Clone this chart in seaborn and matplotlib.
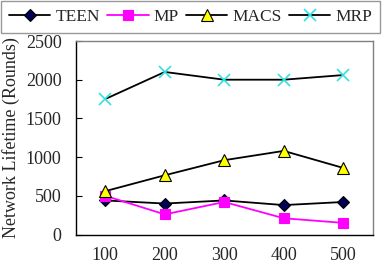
import matplotlib
matplotlib.use("Agg")
import matplotlib.pyplot as plt
import seaborn as sns
import pandas as pd

nodes = [100, 200, 300, 400, 500]
teen = [440, 400, 440, 380, 420]
mp = [500, 260, 420, 210, 150]
macs = [560, 765, 960, 1080, 860]
mrp = [1750, 2100, 2000, 2000, 2060]
series_names = ["TEEN", "MP", "MACS", "MRP"]

sns.set_style("white")
plt.rcParams["font.family"] = ["Liberation Serif", "DejaVu Serif"]

df = pd.DataFrame({
    "nodes": nodes * 4,
    "value": teen + mp + macs + mrp,
    "series": sum([[n] * len(nodes) for n in series_names], []),
})

fig = plt.figure(figsize=(3.83, 2.65), dpi=100)
ax = fig.add_axes([75.5 / 383, 1 - 234.5 / 265, (373 - 75.5) / 383, (234.5 - 41) / 265])

styles = {
    "TEEN": dict(marker="D", color="black", mfc="#000055", mec="black", ms=6),
    "MP": dict(marker="s", color="#ff00ff", mfc="#ff00ff", mec="#ff00ff", ms=6.5),
    "MACS": dict(marker="^", color="black", mfc="#ffff00", mec="black", ms=8),
    "MRP": dict(marker="x", color="black", mfc="#00e5e5", mec="#33e0e0", ms=8),
}
for name in series_names:
    st = styles[name]
    sub = df[df["series"] == name]
    sns.lineplot(data=sub, x="nodes", y="value", ax=ax, color=st["color"],
                 marker=st["marker"], markersize=st["ms"], markerfacecolor=st["mfc"],
                 markeredgecolor=st["mec"], markeredgewidth=1.2 if name == "MRP" else 0.8,
                 linewidth=1.3, label=name, legend=False)

ax.set_xlim(50, 550)
ax.set_ylim(0, 2500)
ax.set_xticks(nodes)
ax.set_xticklabels([str(n) for n in nodes])
ax.set_xticks([150, 250, 350, 450], minor=True)
ax.set_yticks([0, 500, 1000, 1500, 2000, 2500])
ax.tick_params(axis="x", which="major", length=0, pad=9, labelsize=13)
ax.tick_params(axis="x", which="minor", direction="in", length=4, color="black", width=0.8)
ax.tick_params(axis="y", direction="in", length=4, labelsize=13, pad=10, left=True, color="black")
ax.set_xlabel("")
ax.set_ylabel("Network Lifetime (Rounds)", fontsize=13, labelpad=4)
for s in ["left", "bottom"]:
    ax.spines[s].set_color("black")
    ax.spines[s].set_linewidth(1.0)
for s in ["top", "right"]:
    ax.spines[s].set_color("#808080")
    ax.spines[s].set_linewidth(1.0)

handles, labels = ax.get_legend_handles_labels()
leg = fig.legend(handles, labels, loc="upper left", bbox_to_anchor=(0.0, 1.0, 0.995, 0.0),
                 mode="expand", ncol=4,
                 frameon=True, fancybox=False, fontsize=12.5, handlelength=2.4,
                 handletextpad=0.29, columnspacing=0.46, borderpad=0.45, borderaxespad=0.05,
                 edgecolor="#808080")
leg.get_frame().set_linewidth(1.0)

fig.savefig("out.png", dpi=100)
